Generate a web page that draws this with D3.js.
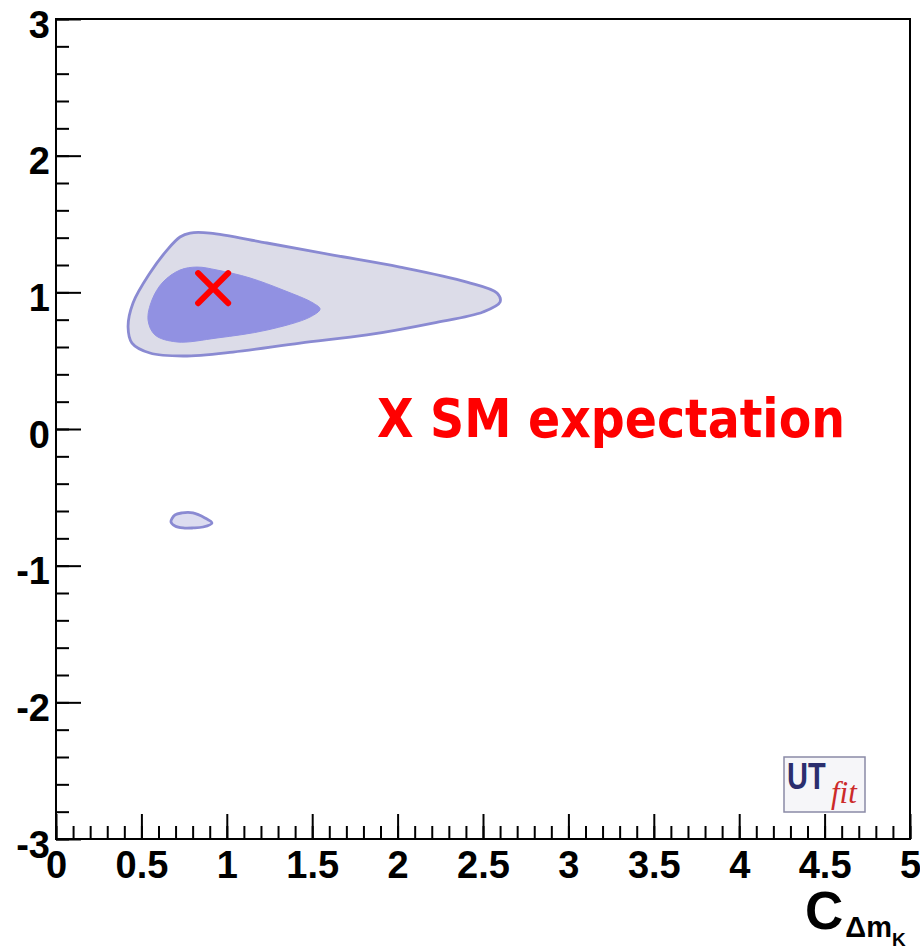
<!DOCTYPE html>
<html>
<head>
<meta charset="utf-8">
<script src="https://cdn.jsdelivr.net/npm/d3@7"></script>
<style>
  html, body { margin: 0; padding: 0; background: #ffffff; }
  svg { display: block; }
</style>
</head>
<body>
<svg id="chart" width="920" height="949"></svg>
<script>
// Axis ranges and tick values
const xDomain = [0, 5];
const yDomain = [-3, 3];
const xMajorTicks = [0, 0.5, 1, 1.5, 2, 2.5, 3, 3.5, 4, 4.5, 5];
const xTickLabels = ["0", "0.5", "1", "1.5", "2", "2.5", "3", "3.5", "4", "4.5", "5"];
const yMajorTicks = [-3, -2, -1, 0, 1, 2, 3];
const yTickLabels = ["-3", "-2", "-1", "0", "1", "2", "3"];
const xMinorStep = 0.1;
const yMinorStep = 0.2;

// 95% probability region (outer contour), [C_dmK, second coordinate]
const outerX = [0.785, 0.902, 1.235, 1.622, 2.014, 2.406, 2.582, 2.600, 2.500, 2.207, 1.821, 1.429, 1.036, 0.744, 0.550, 0.445, 0.422, 0.451, 0.550, 0.650, 0.726];
const outerY = [1.434, 1.434, 1.361, 1.273, 1.185, 1.075, 0.995, 0.929, 0.856, 0.775, 0.688, 0.629, 0.563, 0.534, 0.556, 0.629, 0.746, 0.922, 1.141, 1.309, 1.405];

// 68% probability region (inner contour)
const innerX = [0.826, 0.943, 1.136, 1.329, 1.505, 1.546, 1.487, 1.235, 0.943, 0.708, 0.580, 0.539, 0.562, 0.626, 0.726];
const innerY = [1.185, 1.163, 1.105, 1.017, 0.922, 0.878, 0.819, 0.724, 0.666, 0.637, 0.688, 0.797, 0.944, 1.075, 1.163];

// Small secondary 95% island
const islandX = [0.697, 0.738, 0.802, 0.872, 0.913, 0.861, 0.802, 0.744, 0.697, 0.673];
const islandY = [-0.629, -0.614, -0.614, -0.651, -0.688, -0.717, -0.724, -0.724, -0.710, -0.680];

// Standard Model expectation
const smPoint = [0.92, 1.03];
const smLabel = "X SM expectation";

const svg = d3.select("#chart");
const plotLeft = 56, plotRight = 910, plotTop = 19, plotBottom = 839;

const x = d3.scaleLinear().domain(xDomain).range([plotLeft, plotRight]);
const y = d3.scaleLinear().domain(yDomain).range([plotBottom, plotTop]);

const zip = (xs, ys) => xs.map((v, i) => [v, ys[i]]);
const contour = d3.line()
  .x(d => x(d[0]))
  .y(d => y(d[1]))
  .curve(d3.curveCatmullRomClosed.alpha(0.5));

const regions = svg.append("g");
regions.append("path")
  .attr("d", contour(zip(outerX, outerY)))
  .attr("fill", "#dcdce8")
  .attr("stroke", "#8a8ad2")
  .attr("stroke-width", 2.8);
regions.append("path")
  .attr("d", contour(zip(innerX, innerY)))
  .attr("fill", "#9191e2")
  .attr("stroke", "#9191e2")
  .attr("stroke-width", 1);
regions.append("path")
  .attr("d", contour(zip(islandX, islandY)))
  .attr("fill", "#dcdcf0")
  .attr("stroke", "#8a8ad2")
  .attr("stroke-width", 2.8);

// SM marker
const mx = x(smPoint[0]), my = y(smPoint[1]);
const arm = 15;
svg.append("path")
  .attr("d", `M${mx - arm},${my - arm}L${mx + arm},${my + arm}M${mx + arm},${my - arm}L${mx - arm},${my + arm}`)
  .attr("stroke", "#ff0000")
  .attr("stroke-width", 6)
  .attr("stroke-linecap", "round")
  .attr("fill", "none");

// Frame
svg.append("rect")
  .attr("x", plotLeft).attr("y", plotTop)
  .attr("width", plotRight - plotLeft).attr("height", plotBottom - plotTop)
  .attr("fill", "none")
  .attr("stroke", "#000")
  .attr("stroke-width", 2);

const labelFont = "'Liberation Sans', Arial, Helvetica, sans-serif";

// Minor ticks
const xMinor = d3.range(0, 5 + 1e-9, xMinorStep).map(v => +v.toFixed(2));
const yMinor = d3.range(-3, 3 + 1e-9, yMinorStep).map(v => +v.toFixed(2));

const xMinorAxis = svg.append("g")
  .attr("transform", `translate(0,${plotBottom})`)
  .call(d3.axisBottom(x).tickValues(xMinor).tickSize(-13).tickSizeOuter(0).tickFormat(""));
const yMinorAxis = svg.append("g")
  .attr("transform", `translate(${plotLeft},0)`)
  .call(d3.axisLeft(y).tickValues(yMinor).tickSize(-13).tickSizeOuter(0).tickFormat(""));

// Major ticks with labels
const xAxis = svg.append("g")
  .attr("transform", `translate(0,${plotBottom})`)
  .call(d3.axisBottom(x).tickValues(xMajorTicks).tickSize(-25).tickSizeOuter(0).tickPadding(12)
    .tickFormat((d, i) => xTickLabels[i]));
const yAxis = svg.append("g")
  .attr("transform", `translate(${plotLeft},0)`)
  .call(d3.axisLeft(y).tickValues(yMajorTicks).tickSize(-25).tickSizeOuter(0).tickPadding(6)
    .tickFormat((d, i) => yTickLabels[i]));

[xMinorAxis, yMinorAxis, xAxis, yAxis].forEach(g => {
  g.select(".domain").remove();
  g.selectAll(".tick line").attr("stroke", "#000").attr("stroke-width", 2);
  g.selectAll(".tick text")
    .attr("fill", "#000")
    .style("font-family", labelFont)
    .style("font-weight", "bold")
    .style("font-size", "38px");
});
yAxis.selectAll(".tick text").attr("dy", "0.48em");

// Axis title C_{Δm_K}
const title = svg.append("text")
  .attr("x", 805).attr("y", 929)
  .attr("fill", "#000")
  .style("font-family", labelFont)
  .style("font-weight", "bold");
title.append("tspan").style("font-size", "53px").text("C");
title.append("tspan").attr("dy", 8).attr("dx", 2).style("font-size", "29px").text("\u0394m");
title.append("tspan").attr("dy", 9).style("font-size", "19px").text("K");

// SM legend text
svg.append("text")
  .attr("x", 377).attr("y", 437)
  .attr("textLength", 468)
  .attr("lengthAdjust", "spacingAndGlyphs")
  .attr("fill", "#ff0000")
  .style("font-family", "'DejaVu Sans', sans-serif")
  .style("font-weight", "bold")
  .style("font-size", "54px")
  .text(smLabel);

// UTfit logo
const logo = svg.append("g");
logo.append("rect")
  .attr("x", 784).attr("y", 757)
  .attr("width", 81).attr("height", 55)
  .attr("fill", "#f6f6f9")
  .attr("stroke", "#8a8aa6")
  .attr("stroke-width", 1.5);
logo.append("text")
  .attr("transform", "translate(787,789) scale(1,1.3)")
  .attr("fill", "#2b2e6e")
  .style("font-family", labelFont)
  .style("font-weight", "bold")
  .style("font-size", "29px")
  .text("UT");
logo.append("text")
  .attr("x", 831).attr("y", 803)
  .attr("fill", "#cc2a2a")
  .style("font-family", "'Liberation Serif', 'DejaVu Serif', serif")
  .style("font-style", "italic")
  .style("font-size", "31px")
  .text("fit");
</script>
</body>
</html>
